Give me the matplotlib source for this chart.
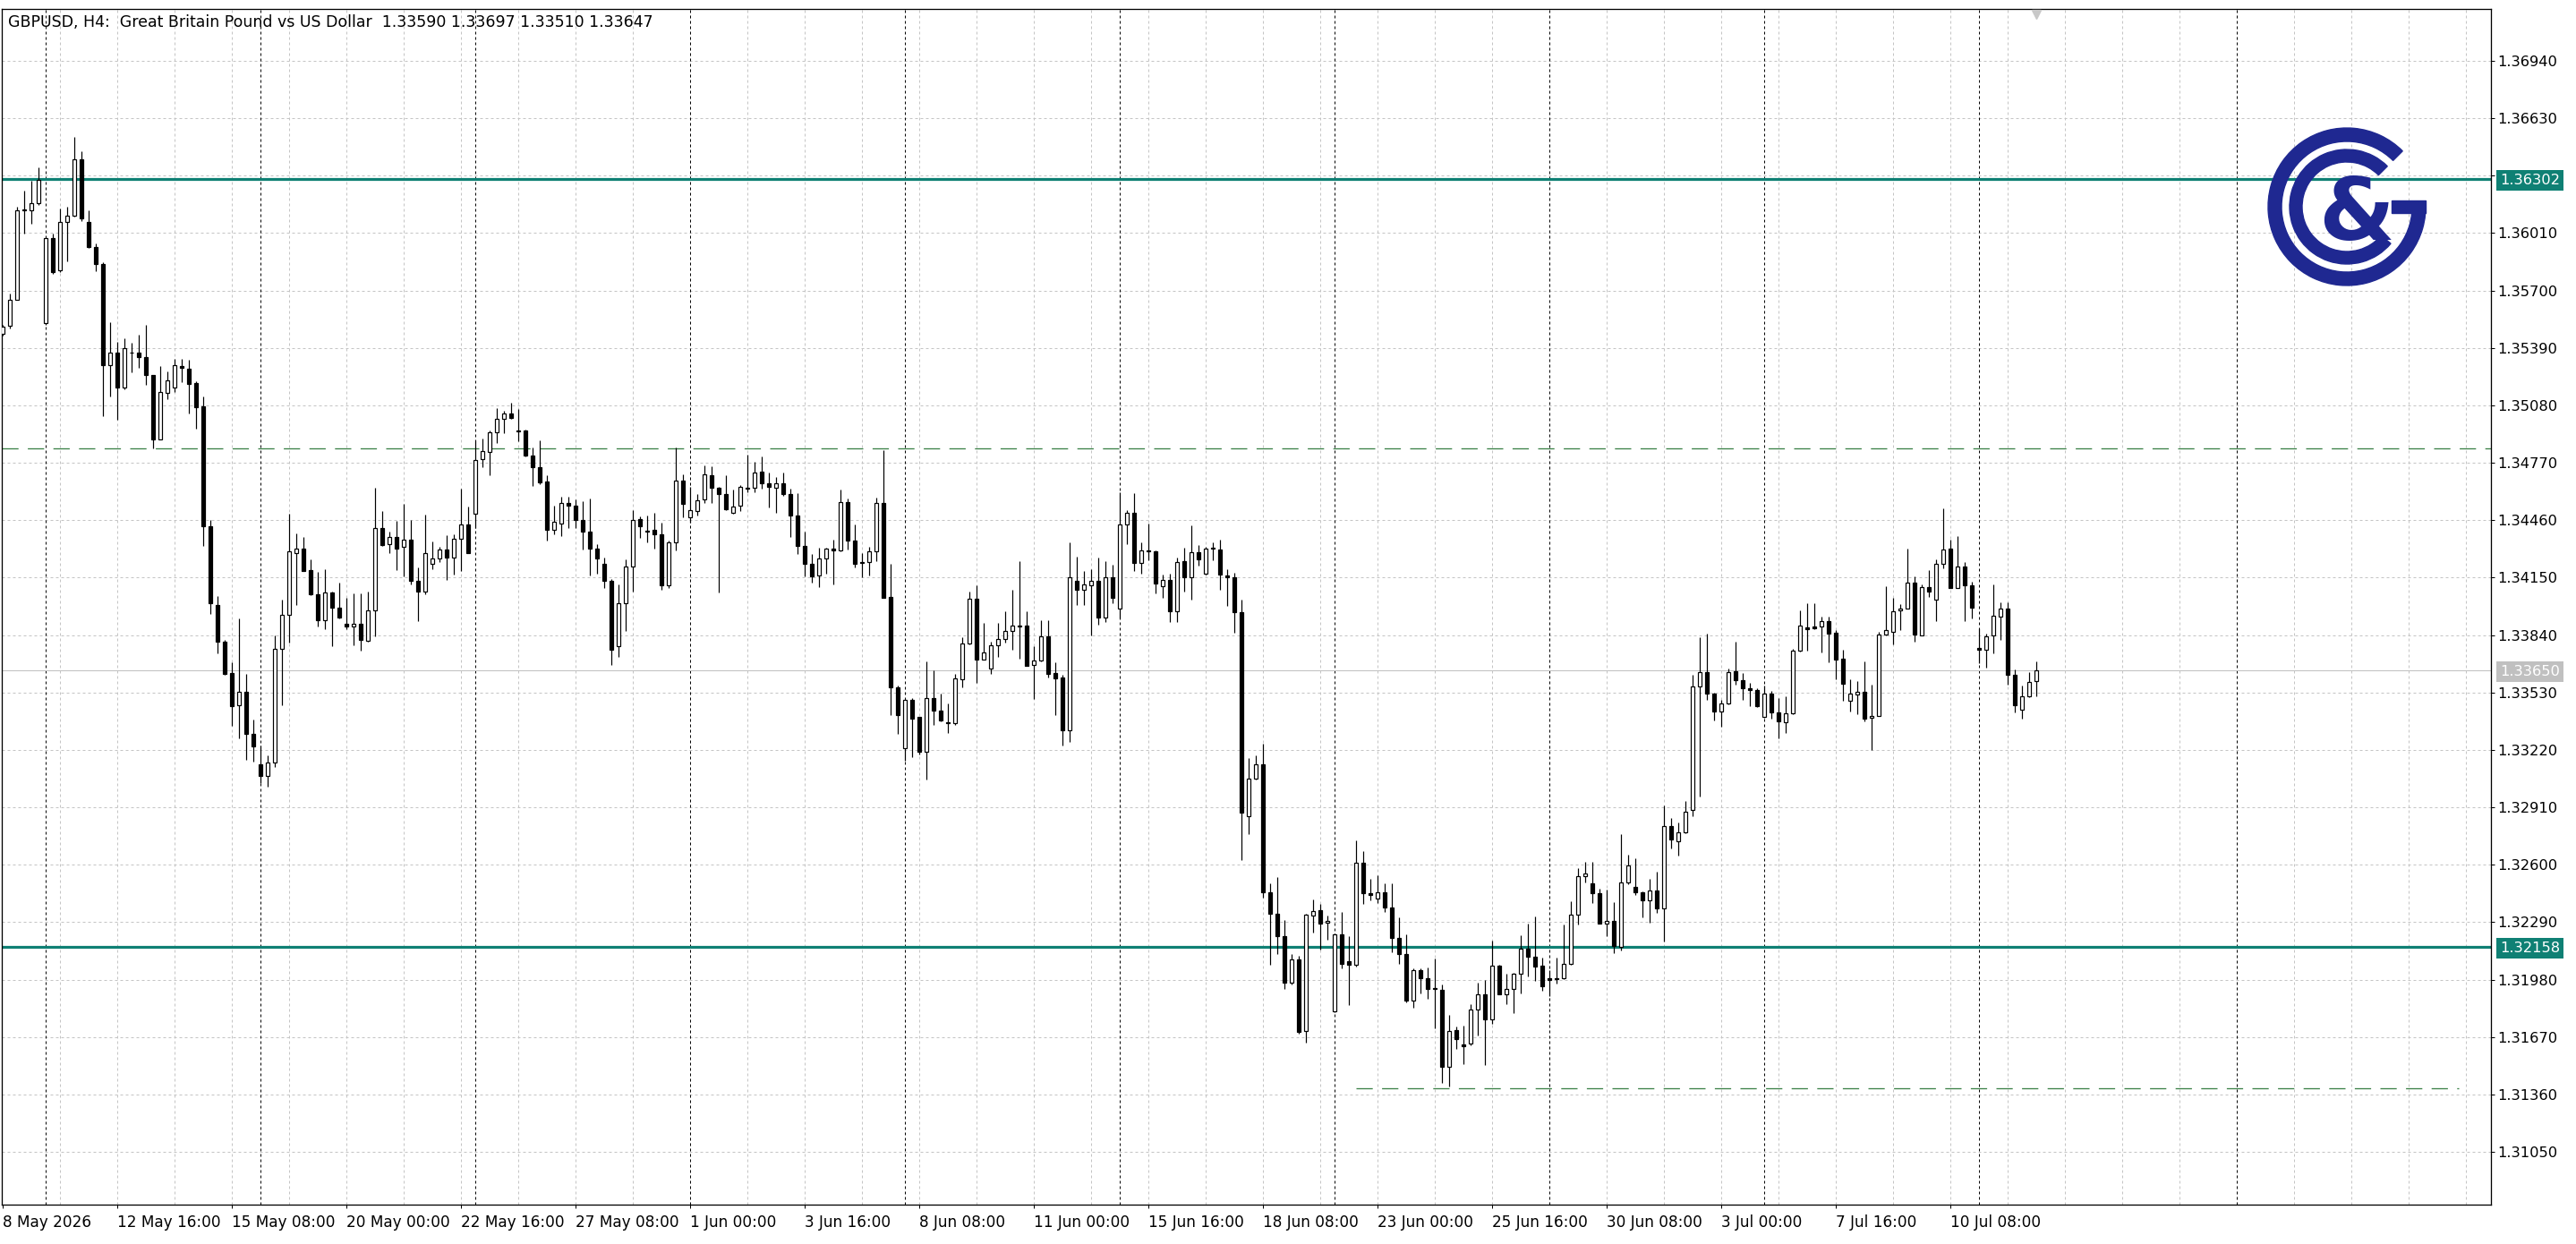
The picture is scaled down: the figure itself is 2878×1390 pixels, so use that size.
import numpy as np
import matplotlib
matplotlib.use("Agg")
import matplotlib.pyplot as plt
import matplotlib.transforms as mtransforms
from matplotlib.patches import Wedge, Rectangle

plt.rcParams['font.family'] = ['DejaVu Sans']

# ---------------- data (GBPUSD H4 candles, bar index 0 = 8 May 2026 00:00) ----------------
opens = [
    1.35465, 1.35509, 1.35652, 1.36131, 1.36133, 1.36170, 1.35524, 1.35983, 1.35807, 1.36072,
    1.36106, 1.36407, 1.36072, 1.35937, 1.35844, 1.35299, 1.35367, 1.35174, 1.35363, 1.35363,
    1.35340, 1.35242, 1.34898, 1.35146, 1.35174, 1.35292, 1.35276, 1.35199, 1.35076, 1.34426,
    1.34004, 1.33804, 1.33633, 1.33462, 1.33533, 1.33305, 1.33142, 1.33079, 1.33150, 1.33767,
    1.33950, 1.34284, 1.34305, 1.34190, 1.34058, 1.33922, 1.34069, 1.33990, 1.33900, 1.33888,
    1.33901, 1.33808, 1.33971, 1.34417, 1.34329, 1.34368, 1.34315, 1.34354, 1.34131, 1.34077,
    1.34223, 1.34252, 1.34300, 1.34257, 1.34362, 1.34439, 1.34494, 1.34788, 1.34830, 1.34935,
    1.35008, 1.35037, 1.34946, 1.34946, 1.34809, 1.34746, 1.34668, 1.34410, 1.34442, 1.34551,
    1.34538, 1.34462, 1.34397, 1.34305, 1.34223, 1.34131, 1.33780, 1.34014, 1.34208, 1.34465,
    1.34405, 1.34407, 1.34384, 1.34110, 1.34341, 1.34672, 1.34475, 1.34510, 1.34570, 1.34704,
    1.34636, 1.34601, 1.34502, 1.34538, 1.34636, 1.34635, 1.34720, 1.34659, 1.34635, 1.34659,
    1.34599, 1.34483, 1.34320, 1.34226, 1.34160, 1.34252, 1.34305, 1.34295, 1.34559, 1.34349,
    1.34234, 1.34234, 1.34291, 1.34555, 1.34047, 1.33556, 1.33231, 1.33490, 1.33397, 1.33212,
    1.33502, 1.33430, 1.33368, 1.33362, 1.33599, 1.33796, 1.34035, 1.33709, 1.33661, 1.33785,
    1.33817, 1.33861, 1.33890, 1.33890, 1.33677, 1.33701, 1.33834, 1.33635, 1.33611, 1.33328,
    1.34132, 1.34084, 1.34108, 1.34132, 1.33934, 1.34152, 1.33982, 1.34436, 1.34502, 1.34229,
    1.34297, 1.34294, 1.34105, 1.34137, 1.33970, 1.34239, 1.34154, 1.34288, 1.34169, 1.34305,
    1.34303, 1.34161, 1.34150, 1.33963, 1.32863, 1.33065, 1.33142, 1.32449, 1.32333, 1.32212,
    1.31961, 1.32089, 1.31702, 1.32324, 1.32354, 1.32286, 1.31808, 1.32222, 1.32078, 1.32059,
    1.32611, 1.32445, 1.32418, 1.32452, 1.32367, 1.32205, 1.32120, 1.31868, 1.32031, 1.31989,
    1.31936, 1.31925, 1.31507, 1.31709, 1.31628, 1.31633, 1.31819, 1.31902, 1.31763, 1.32057,
    1.31899, 1.31927, 1.32010, 1.32148, 1.32103, 1.32057, 1.31985, 1.31982, 1.31985, 1.32065,
    1.32331, 1.32540, 1.32500, 1.32447, 1.32284, 1.32298, 1.32156, 1.32505, 1.32480, 1.32452,
    1.32409, 1.32461, 1.32364, 1.32810, 1.32725, 1.32776, 1.32896, 1.33564, 1.33641, 1.33524,
    1.33425, 1.33473, 1.33644, 1.33597, 1.33552, 1.33544, 1.33396, 1.33525, 1.33423, 1.33368,
    1.33417, 1.33754, 1.33880, 1.33884, 1.33888, 1.33913, 1.33851, 1.33711, 1.33485, 1.33520,
    1.33532, 1.33391, 1.33404, 1.33845, 1.33856, 1.33974, 1.33985, 1.34123, 1.33840, 1.34097,
    1.34029, 1.34223, 1.34305, 1.34095, 1.34208, 1.34106, 1.33772, 1.33759, 1.33840, 1.33940,
    1.33985, 1.33627, 1.33439, 1.33509, 1.33590,
]
highs = [
    1.35515, 1.35682, 1.36154, 1.36238, 1.36290, 1.36366, 1.35990, 1.36005, 1.36142, 1.36154,
    1.36530, 1.36450, 1.36135, 1.35953, 1.35855, 1.35529, 1.35424, 1.35442, 1.35420, 1.35461,
    1.35515, 1.35246, 1.35292, 1.35265, 1.35329, 1.35329, 1.35326, 1.35208, 1.35128, 1.34460,
    1.34052, 1.33813, 1.33692, 1.33931, 1.33628, 1.33384, 1.33242, 1.33191, 1.33840, 1.34029,
    1.34494, 1.34391, 1.34370, 1.34247, 1.34182, 1.34197, 1.34074, 1.34121, 1.34042, 1.34066,
    1.34066, 1.34077, 1.34635, 1.34510, 1.34397, 1.34454, 1.34547, 1.34462, 1.34203, 1.34491,
    1.34345, 1.34316, 1.34381, 1.34386, 1.34630, 1.34534, 1.34890, 1.34901, 1.34946, 1.35067,
    1.35051, 1.35092, 1.35059, 1.34950, 1.34853, 1.34893, 1.34704, 1.34539, 1.34588, 1.34588,
    1.34570, 1.34564, 1.34578, 1.34329, 1.34260, 1.34142, 1.34115, 1.34249, 1.34513, 1.34481,
    1.34486, 1.34502, 1.34446, 1.34349, 1.34853, 1.34707, 1.34639, 1.34599, 1.34756, 1.34749,
    1.34639, 1.34704, 1.34623, 1.34651, 1.34814, 1.34777, 1.34804, 1.34717, 1.34691, 1.34717,
    1.34631, 1.34604, 1.34397, 1.34279, 1.34313, 1.34313, 1.34354, 1.34623, 1.34575, 1.34438,
    1.34283, 1.34318, 1.34580, 1.34840, 1.34224, 1.33565, 1.33494, 1.33498, 1.33400, 1.33696,
    1.33651, 1.33523, 1.33470, 1.33632, 1.33830, 1.34076, 1.34108, 1.33906, 1.33804, 1.33906,
    1.33968, 1.34084, 1.34237, 1.33966, 1.33782, 1.33918, 1.33918, 1.33691, 1.33624, 1.34339,
    1.34262, 1.34184, 1.34194, 1.34258, 1.34241, 1.34221, 1.34609, 1.34512, 1.34604, 1.34342,
    1.34442, 1.34297, 1.34168, 1.34169, 1.34256, 1.34309, 1.34430, 1.34328, 1.34318, 1.34339,
    1.34356, 1.34197, 1.34175, 1.34033, 1.33178, 1.33192, 1.33252, 1.32498, 1.32534, 1.32301,
    1.32120, 1.32106, 1.32335, 1.32413, 1.32386, 1.32324, 1.32227, 1.32343, 1.32212, 1.32732,
    1.32675, 1.32524, 1.32541, 1.32498, 1.32498, 1.32318, 1.32222, 1.32042, 1.32042, 1.32046,
    1.32095, 1.31953, 1.31787, 1.31728, 1.31729, 1.31849, 1.31965, 1.31979, 1.32190, 1.32062,
    1.32012, 1.32015, 1.32218, 1.32284, 1.32323, 1.32098, 1.32032, 1.32098, 1.32276, 1.32401,
    1.32584, 1.32617, 1.32614, 1.32472, 1.32467, 1.32397, 1.32763, 1.32655, 1.32633, 1.32456,
    1.32522, 1.32564, 1.32918, 1.32854, 1.32830, 1.32946, 1.33627, 1.33830, 1.33847, 1.33531,
    1.33491, 1.33661, 1.33805, 1.33636, 1.33581, 1.33552, 1.33565, 1.33538, 1.33498, 1.33509,
    1.33764, 1.33972, 1.34010, 1.34014, 1.33940, 1.33940, 1.33867, 1.33759, 1.33603, 1.33590,
    1.33700, 1.33570, 1.33856, 1.34103, 1.34042, 1.34006, 1.34305, 1.34158, 1.34115, 1.34190,
    1.34249, 1.34522, 1.34357, 1.34373, 1.34232, 1.34126, 1.33877, 1.33848, 1.34111, 1.34018,
    1.34018, 1.33654, 1.33569, 1.33638, 1.33697,
]
lows = [
    1.35458, 1.35497, 1.35648, 1.36005, 1.36062, 1.36160, 1.35515, 1.35789, 1.35800, 1.35857,
    1.36101, 1.36074, 1.35930, 1.35805, 1.35023, 1.35128, 1.35003, 1.35167, 1.35260, 1.35283,
    1.35192, 1.34848, 1.34896, 1.35112, 1.35151, 1.35203, 1.35035, 1.34952, 1.34319, 1.33954,
    1.33742, 1.33625, 1.33350, 1.33282, 1.33168, 1.33157, 1.33041, 1.33021, 1.33129, 1.33460,
    1.33800, 1.34002, 1.34184, 1.34055, 1.33888, 1.33872, 1.33780, 1.33929, 1.33872, 1.33783,
    1.33754, 1.33803, 1.33832, 1.34321, 1.34284, 1.34192, 1.34155, 1.34115, 1.33916, 1.34058,
    1.34195, 1.34232, 1.34136, 1.34168, 1.34184, 1.34281, 1.34417, 1.34744, 1.34704, 1.34878,
    1.34930, 1.35008, 1.34885, 1.34804, 1.34646, 1.34656, 1.34349, 1.34386, 1.34373, 1.34417,
    1.34417, 1.34303, 1.34163, 1.34171, 1.34095, 1.33680, 1.33720, 1.33864, 1.34074, 1.34365,
    1.34341, 1.34308, 1.34082, 1.34094, 1.34297, 1.34478, 1.34446, 1.34486, 1.34555, 1.34555,
    1.34069, 1.34515, 1.34494, 1.34510, 1.34610, 1.34610, 1.34631, 1.34530, 1.34502, 1.34591,
    1.34368, 1.34276, 1.34158, 1.34123, 1.34097, 1.34171, 1.34115, 1.34292, 1.34300, 1.34207,
    1.34150, 1.34160, 1.34241, 1.34040, 1.33406, 1.33304, 1.33163, 1.33179, 1.33196, 1.33058,
    1.33357, 1.33373, 1.33309, 1.33357, 1.33559, 1.33788, 1.33583, 1.33708, 1.33628, 1.33724,
    1.33801, 1.33761, 1.33712, 1.33672, 1.33494, 1.33696, 1.33612, 1.33406, 1.33244, 1.33265,
    1.34000, 1.34000, 1.33837, 1.33898, 1.33911, 1.34014, 1.33930, 1.34331, 1.34186, 1.34169,
    1.34245, 1.34064, 1.34040, 1.33910, 1.33910, 1.34076, 1.34031, 1.34214, 1.34165, 1.34245,
    1.34084, 1.33995, 1.33851, 1.32626, 1.32764, 1.33061, 1.32420, 1.32059, 1.32116, 1.31931,
    1.31953, 1.31687, 1.31638, 1.32233, 1.32142, 1.32195, 1.31804, 1.32042, 1.31840, 1.32052,
    1.32386, 1.32407, 1.32392, 1.32345, 1.32127, 1.32067, 1.31855, 1.31830, 1.31904, 1.31876,
    1.31719, 1.31422, 1.31405, 1.31607, 1.31525, 1.31625, 1.31679, 1.31517, 1.31741, 1.31898,
    1.31849, 1.31799, 1.31907, 1.31999, 1.31974, 1.31919, 1.31890, 1.31957, 1.31982, 1.32060,
    1.32278, 1.32505, 1.32394, 1.32280, 1.32215, 1.32123, 1.32135, 1.32497, 1.32439, 1.32318,
    1.32289, 1.32339, 1.32185, 1.32688, 1.32647, 1.32771, 1.32863, 1.32966, 1.33491, 1.33378,
    1.33345, 1.33464, 1.33574, 1.33489, 1.33456, 1.33453, 1.33391, 1.33388, 1.33283, 1.33310,
    1.33412, 1.33751, 1.33756, 1.33870, 1.33746, 1.33691, 1.33603, 1.33485, 1.33425, 1.33415,
    1.33376, 1.33218, 1.33401, 1.33840, 1.33788, 1.33867, 1.33982, 1.33804, 1.33837, 1.34045,
    1.33916, 1.34200, 1.34092, 1.34094, 1.33916, 1.33929, 1.33687, 1.33666, 1.33740, 1.33816,
    1.33574, 1.33423, 1.33388, 1.33504, 1.33510,
]
closes = [
    1.35504, 1.35652, 1.36131, 1.36138, 1.36170, 1.36295, 1.35983, 1.35800, 1.36072, 1.36106,
    1.36407, 1.36090, 1.35937, 1.35844, 1.35299, 1.35367, 1.35174, 1.35388, 1.35366, 1.35340,
    1.35242, 1.34898, 1.35151, 1.35217, 1.35297, 1.35283, 1.35194, 1.35071, 1.34426, 1.34011,
    1.33804, 1.33631, 1.33458, 1.33533, 1.33305, 1.33241, 1.33079, 1.33150, 1.33767, 1.33950,
    1.34291, 1.34308, 1.34187, 1.34058, 1.33922, 1.34068, 1.33990, 1.33934, 1.33888, 1.33901,
    1.33816, 1.33971, 1.34417, 1.34328, 1.34368, 1.34308, 1.34354, 1.34131, 1.34077, 1.34284,
    1.34252, 1.34300, 1.34257, 1.34362, 1.34439, 1.34284, 1.34785, 1.34833, 1.34935, 1.35008,
    1.35037, 1.35011, 1.34941, 1.34809, 1.34746, 1.34665, 1.34410, 1.34450, 1.34551, 1.34538,
    1.34459, 1.34397, 1.34305, 1.34252, 1.34131, 1.33760, 1.34014, 1.34208, 1.34460, 1.34426,
    1.34400, 1.34384, 1.34110, 1.34341, 1.34672, 1.34546, 1.34513, 1.34567, 1.34707, 1.34635,
    1.34601, 1.34518, 1.34533, 1.34639, 1.34631, 1.34717, 1.34659, 1.34639, 1.34659, 1.34599,
    1.34483, 1.34320, 1.34223, 1.34155, 1.34252, 1.34305, 1.34295, 1.34559, 1.34349, 1.34224,
    1.34229, 1.34291, 1.34555, 1.34043, 1.33556, 1.33406, 1.33490, 1.33389, 1.33209, 1.33502,
    1.33430, 1.33381, 1.33362, 1.33604, 1.33796, 1.34035, 1.33709, 1.33745, 1.33785, 1.33817,
    1.33861, 1.33890, 1.33885, 1.33675, 1.33701, 1.33834, 1.33632, 1.33607, 1.33328, 1.34152,
    1.34084, 1.34113, 1.34132, 1.33934, 1.34152, 1.34043, 1.34436, 1.34502, 1.34229, 1.34297,
    1.34291, 1.34116, 1.34137, 1.33970, 1.34235, 1.34154, 1.34288, 1.34250, 1.34307, 1.34309,
    1.34165, 1.34150, 1.33963, 1.32880, 1.33065, 1.33142, 1.32449, 1.32333, 1.32212, 1.31961,
    1.32089, 1.31696, 1.32328, 1.32350, 1.32282, 1.32297, 1.32222, 1.32067, 1.32059, 1.32611,
    1.32445, 1.32439, 1.32452, 1.32367, 1.32205, 1.32120, 1.31868, 1.32031, 1.31989, 1.31931,
    1.31927, 1.31507, 1.31702, 1.31660, 1.31621, 1.31819, 1.31902, 1.31763, 1.32057, 1.31902,
    1.31927, 1.32010, 1.32148, 1.32103, 1.32052, 1.31945, 1.31980, 1.31987, 1.32065, 1.32331,
    1.32539, 1.32554, 1.32447, 1.32284, 1.32298, 1.32161, 1.32505, 1.32597, 1.32451, 1.32409,
    1.32461, 1.32364, 1.32810, 1.32738, 1.32776, 1.32886, 1.33564, 1.33641, 1.33524, 1.33428,
    1.33473, 1.33641, 1.33597, 1.33552, 1.33544, 1.33458, 1.33525, 1.33423, 1.33375, 1.33417,
    1.33754, 1.33893, 1.33872, 1.33877, 1.33913, 1.33848, 1.33708, 1.33577, 1.33522, 1.33532,
    1.33388, 1.33404, 1.33845, 1.33869, 1.33969, 1.33985, 1.34123, 1.33843, 1.34097, 1.34077,
    1.34223, 1.34300, 1.34095, 1.34208, 1.34106, 1.33990, 1.33759, 1.33835, 1.33942, 1.33985,
    1.33627, 1.33460, 1.33509, 1.33586, 1.33647,
]

price_ticks = [1.31050, 1.31360, 1.31670, 1.31980, 1.32290, 1.32600, 1.32910, 1.33220,
               1.33530, 1.33840, 1.34150, 1.34460, 1.34770, 1.35080, 1.35390, 1.35700,
               1.36010, 1.36320, 1.36630, 1.36940]
hidden_price_labels = [1.36320]          # covered by the level tag on the price scale

date_tick_bars = [0, 16, 32, 48, 64, 80, 96, 112, 128, 144, 160, 176, 192, 208, 224, 240, 256, 272]
date_tick_labels = ["8 May 2026", "12 May 16:00", "15 May 08:00", "20 May 00:00", "22 May 16:00",
                    "27 May 08:00", "1 Jun 00:00", "3 Jun 16:00", "8 Jun 08:00", "11 Jun 00:00",
                    "15 Jun 16:00", "18 Jun 08:00", "23 Jun 00:00", "25 Jun 16:00", "30 Jun 08:00",
                    "3 Jul 00:00", "7 Jul 16:00", "10 Jul 08:00"]
week_separator_bars = [6, 36, 66, 96, 126, 156, 186, 216, 246, 276, 312]
grid_bars = list(range(8, 345, 8))

resistance_level = 1.36302
support_level = 1.32158
current_price = 1.33650
upper_dashed_level = 1.34846
lower_dashed_level = 1.31395
lower_dashed_span = (189, 343)

title = "GBPUSD, H4:  Great Britain Pound vs US Dollar  1.33590 1.33697 1.33510 1.33647"

# ---------------- figure / axes geometry (pixels) ----------------
W, H, DPI = 2878, 1390, 100
PX = 72.0 / DPI  # one pixel in points
ax_left, ax_right, ax_top, ax_bottom = 2, 2783, 10, 1346

fig = plt.figure(figsize=(W / DPI, H / DPI), dpi=DPI)
fig.patch.set_facecolor("white")
ax = fig.add_axes([ax_left / W, 1 - ax_bottom / H, (ax_right - ax_left) / W, (ax_bottom - ax_top) / H])
ax.set_facecolor("white")

bar_px = 8.0
first_bar_px = 2.67
ax.set_xlim((ax_left - first_bar_px) / bar_px, (ax_right - first_bar_px) / bar_px)
ax.set_ylim(1.307649, 1.372200)

grid_col = "#c4c4c4"
teal = "#0f8074"
dash_green = "#3b8046"

# grid
for v in price_ticks:
    ax.axhline(v, color=grid_col, lw=PX, ls=(0, (3, 3)), zorder=1)
for b in grid_bars:
    ax.axvline(b, color=grid_col, lw=PX, ls=(0, (3, 3)), zorder=1)
for b in week_separator_bars:
    ax.axvline(b, color="black", lw=PX, ls=(0, (3, 3)), zorder=1.5)

# level lines
ax.axhline(current_price, color="#c0c0c0", lw=PX, zorder=1.6)
ax.axhline(upper_dashed_level, color=dash_green, lw=PX * 1.3, ls=(0, (14, 8)), zorder=1.7)
ax.hlines(lower_dashed_level, lower_dashed_span[0], lower_dashed_span[1], color=dash_green,
          lw=PX * 1.3, linestyles=[(0, (14, 8))], zorder=1.7)
ax.axhline(resistance_level, color=teal, lw=3.2 * PX, zorder=2)
ax.axhline(support_level, color=teal, lw=3.2 * PX, zorder=2)

# candles
o = np.array(opens); h = np.array(highs); l = np.array(lows); c = np.array(closes)
x = np.arange(len(o))
up = c >= o
ax.vlines(x, l, h, color="black", lw=1.2 * PX, zorder=3)
ax.bar(x[up], (c - o)[up], bottom=o[up], width=0.5, color="white", edgecolor="black",
       linewidth=1.2 * PX, zorder=4)
ax.bar(x[~up], (o - c)[~up], bottom=c[~up], width=0.5, color="black", edgecolor="black",
       linewidth=1.2 * PX, zorder=4)

# chart shift marker
ax.plot([len(o) - 1], [1.372200 - 6 * 4.83e-5], marker="v", ms=7, color="#c8c8c8",
        clip_on=False, zorder=6, ls="none")

# axes styling
for s in ax.spines.values():
    s.set_linewidth(1.3 * PX)
    s.set_color("black")
ax.yaxis.tick_right()
ax.set_yticks(price_ticks)
ax.set_yticklabels(["" if v in hidden_price_labels else f"{v:.5f}" for v in price_ticks],
                   fontsize=11.7)
ax.tick_params(axis="y", direction="out", length=4 * PX, width=PX, pad=2, colors="black")
ax.set_xticks(date_tick_bars)
ax.set_xticklabels(date_tick_labels, ha="left", fontsize=12.2)
ax.tick_params(axis="x", direction="out", length=4 * PX, width=PX, pad=5, colors="black")

# price tags on the scale
trans = mtransforms.blended_transform_factory(ax.transAxes, ax.transData)
tag_x = (2793 - ax_left) / (ax_right - ax_left)
for val, col in [(resistance_level, teal), (support_level, teal), (current_price, "#c0c0c0")]:
    ax.text(tag_x, val, f"{val:.5f}", transform=trans, ha="left", va="center_baseline",
            fontsize=11.7, color="white", clip_on=False, zorder=10,
            bbox=dict(boxstyle="square,pad=0.25", fc=col, ec="none"))

# title
fig.text(9 / W, 1 - 25 / H, title, fontsize=12.5, ha="left", va="center", color="black")

# logo (drawn in a pixel-scaled overlay)
logo_blue = "#1f2891"
lx0, ly0, lw_, lh_ = 2520, 130, 210, 200
lax = fig.add_axes([lx0 / W, 1 - (ly0 + lh_) / H, lw_ / W, lh_ / H])
lax.set_xlim(0, lw_)
lax.set_ylim(0, lh_)
lax.axis("off")
cx, cy = 2622 - lx0, (ly0 + lh_) - 231
lax.add_patch(Wedge((cx, cy), 88, 45, 364, width=15, color=logo_blue))
lax.add_patch(Rectangle((cx + 50, cy - 7), 38, 14, color=logo_blue))
lax.add_patch(Wedge((cx, cy), 64, 45, 320, width=14, color=logo_blue))
lax.text(cx + 11, cy - 37, "&", fontsize=70, fontweight="bold", color=logo_blue,
         ha="center", va="baseline")

fig.savefig("out.png", dpi=DPI, facecolor="white")
